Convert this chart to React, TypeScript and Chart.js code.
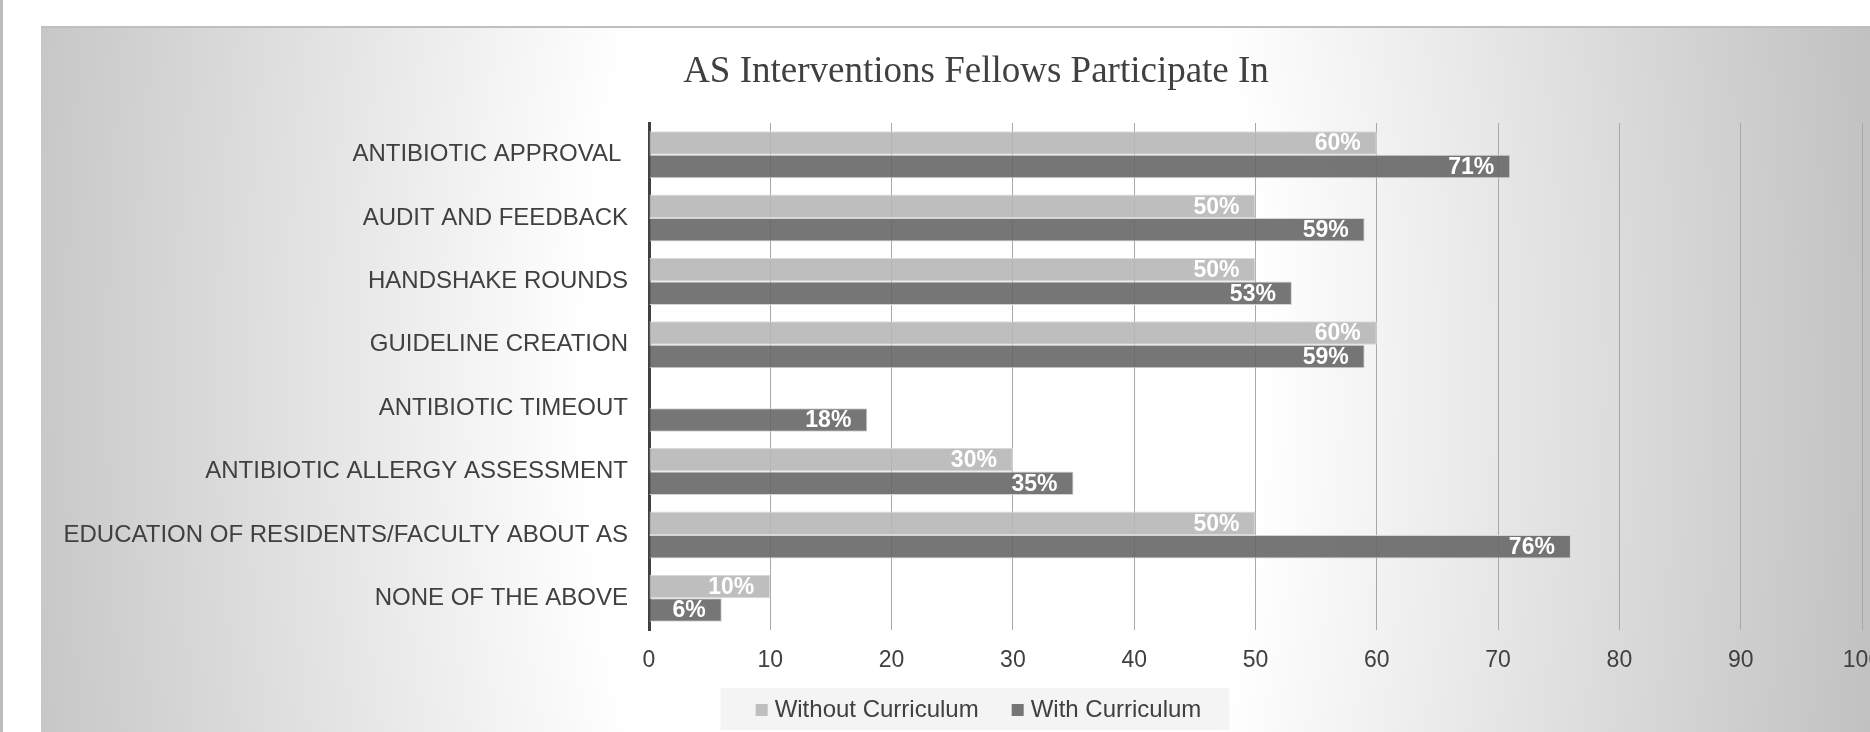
import React, { useEffect, useRef } from "react";
import { Chart, registerables } from "chart.js";

Chart.register(...registerables);

// Survey categories, listed top to bottom
const categories = [
  "ANTIBIOTIC APPROVAL ",
  "AUDIT AND FEEDBACK",
  "HANDSHAKE ROUNDS",
  "GUIDELINE CREATION",
  "ANTIBIOTIC TIMEOUT",
  "ANTIBIOTIC ALLERGY ASSESSMENT",
  "EDUCATION OF RESIDENTS/FACULTY ABOUT AS",
  "NONE OF THE ABOVE",
];

// Percent of fellows participating in each intervention
const withoutCurriculum = [60, 50, 50, 60, null, 30, 50, 10];
const withCurriculum = [71, 59, 53, 59, 18, 35, 76, 6];

const seriesNames = ["Without Curriculum", "With Curriculum"];
const legendSwatches = ["#bfbfbf", "#767676"];
const chartTitle = "AS Interventions Fellows Participate In";

// Value axis range
const axisMin = 0;
const axisMax = 100;
const axisStep = 10;

const SANS = "'Liberation Sans', Arial, Helvetica, sans-serif";
const SERIF = "'Liberation Serif', 'Times New Roman', Times, serif";
const TEXT = "#404040";

// Small square marker, drawn toward the right of its canvas so it sits close to the legend text
function makeSwatch(color: string) {
  const c = document.createElement("canvas");
  c.width = 36;
  c.height = 12;
  const g = c.getContext("2d");
  if (g) {
    g.fillStyle = color;
    g.fillRect(17, 0, 12, 12);
  }
  return c;
}

// White percentage labels at the inner end of each bar
const valueLabels = {
  id: "valueLabels",
  afterDatasetsDraw(chart: any) {
    const { ctx } = chart;
    ctx.save();
    ctx.font = `bold 23px ${SANS}`;
    ctx.fillStyle = "#ffffff";
    ctx.textAlign = "right";
    ctx.textBaseline = "middle";
    chart.data.datasets.forEach((ds: any, di: number) => {
      const meta = chart.getDatasetMeta(di);
      meta.data.forEach((bar: any, i: number) => {
        const v = ds.data[i];
        if (v == null || v === 0) return;
        ctx.fillText(`${v}%`, bar.x - 16, bar.y + 1);
      });
    });
    ctx.restore();
  },
};

// Light panel behind the legend entries
const legendPanel = {
  id: "legendPanel",
  beforeDraw(chart: any) {
    const boxes = chart.legend && chart.legend.legendHitBoxes;
    if (!boxes || !boxes.length) return;
    const first = boxes[0];
    const last = boxes[boxes.length - 1];
    const { ctx } = chart;
    const x0 = first.left - 30;
    const x1 = last.left + last.width + 28;
    ctx.save();
    ctx.fillStyle = "rgba(243,243,243,0.9)";
    ctx.fillRect(x0, first.top - 10, x1 - x0, first.height + 18);
    ctx.restore();
  },
};

export default function App() {
  const canvasRef = useRef<HTMLCanvasElement | null>(null);

  useEffect(() => {
    const canvas = canvasRef.current;
    if (!canvas) return;
    const swatches = legendSwatches.map(makeSwatch);
    const chart = new Chart(canvas, {
      type: "bar",
      data: {
        labels: categories,
        datasets: [
          {
            label: seriesNames[0],
            data: withoutCurriculum,
            backgroundColor: "rgba(183,183,183,0.9)",
            borderColor: "#dadada",
            borderWidth: 1,
            categoryPercentage: 0.74,
            barPercentage: 1,
          },
          {
            label: seriesNames[1],
            data: withCurriculum,
            backgroundColor: "rgba(103,103,103,0.9)",
            borderColor: "#d4d4d4",
            borderWidth: 1,
            categoryPercentage: 0.74,
            barPercentage: 1,
          },
        ],
      },
      options: {
        indexAxis: "y",
        responsive: false,
        animation: false,
        devicePixelRatio: 1,
        layout: { padding: { left: 0, right: 0, top: 0, bottom: 0 } },
        plugins: {
          title: {
            display: true,
            text: chartTitle,
            color: TEXT,
            font: { family: SERIF, size: 37, weight: "normal", lineHeight: 1.2 },
            padding: { top: 22, bottom: 28.6 },
          },
          legend: {
            position: "bottom",
            labels: {
              color: TEXT,
              font: { family: SANS, size: 24 },
              usePointStyle: true,
              pointStyleWidth: 12,
              boxWidth: 12,
              boxHeight: 12,
              padding: 28,
              generateLabels: (c: any) =>
                (Chart.defaults as any).plugins.legend.labels
                  .generateLabels(c)
                  .map((item: any, i: number) => ({
                    ...item,
                    lineWidth: 0,
                    pointStyle: swatches[i],
                  })),
            },
          },
          tooltip: { enabled: false },
        },
        scales: {
          x: {
            min: axisMin,
            max: axisMax,
            ticks: {
              stepSize: axisStep,
              color: TEXT,
              font: { family: SANS, size: 23 },
              padding: 17,
            },
            grid: { color: "#a8a8a8", lineWidth: 1, drawTicks: false },
            border: { display: false },
            afterFit(scale: any) {
              scale.height = 40;
              scale.paddingLeft = 0;
              scale.paddingRight = 49;
            },
          },
          y: {
            ticks: {
              color: TEXT,
              font: { family: SANS, size: 24 },
              padding: 21,
            },
            grid: { display: false, drawTicks: false },
            border: { display: true, color: "#404040", width: 3 },
            afterFit(scale: any) {
              scale.width = 608;
              scale.paddingTop = 0;
              scale.paddingBottom = 0;
            },
          },
        },
      },
      plugins: [legendPanel, valueLabels],
    } as any);
    return () => chart.destroy();
  }, []);

  return (
    <div
      style={{
        position: "fixed",
        left: 0,
        top: 0,
        width: 1870,
        height: 732,
        overflow: "hidden",
        background: "#ffffff",
      }}
    >
      <div
        style={{
          position: "absolute",
          left: 0,
          top: 0,
          width: 3,
          height: 732,
          background: "#bdbdbd",
        }}
      />
      <div
        style={{
          position: "absolute",
          left: 41,
          top: 26,
          width: 1829,
          height: 704,
          borderTop: "2px solid #bfbfbf",
          background:
            "radial-gradient(ellipse 960px 2000px at 884px 352px, #ffffff 0%, #ffffff 35%, #c1c1c1 100%)",
        }}
      >
        <canvas
          ref={canvasRef}
          width={1870}
          height={704}
          style={{ position: "absolute", left: 0, top: 0, width: 1870, height: 704 }}
        />
      </div>
    </div>
  );
}
